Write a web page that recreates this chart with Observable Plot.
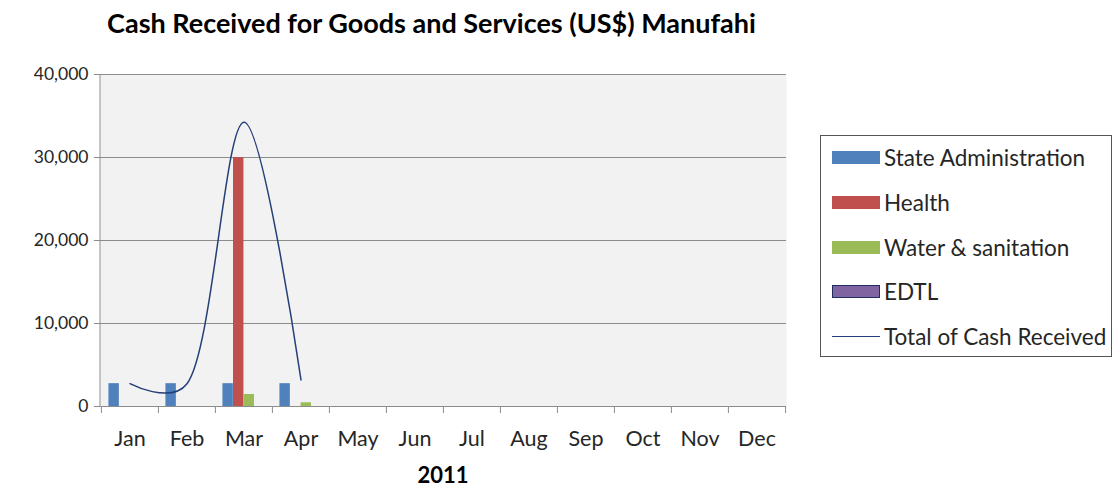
<!DOCTYPE html>
<html><head><meta charset="utf-8">
<script src="https://cdn.jsdelivr.net/npm/d3@7"></script>
<script src="https://cdn.jsdelivr.net/npm/@observablehq/plot@0.6"></script>
<style>
body{margin:0;background:#fff;font-family:Lato,"Open Sans",sans-serif;}
#wrap{position:relative;width:1117px;height:489px;overflow:hidden;}
#title{position:absolute;left:40px;top:6px;width:783px;text-align:center;font-weight:bold;font-size:27px;color:#000;white-space:nowrap;}
#chart{position:absolute;left:0;top:50px;}
#xlabel{position:absolute;left:393px;top:461px;width:100px;text-align:center;font-weight:bold;font-size:22px;color:#000;}
#legend{position:absolute;left:820px;top:135px;width:292px;height:222px;border:1px solid #555;box-sizing:border-box;}
.item{position:absolute;left:11px;height:26px;display:flex;align-items:center;font-size:22.5px;color:#262626;white-space:nowrap;}
.sw{width:48px;height:13px;margin-right:4px;box-sizing:border-box;}
.ln{width:48px;height:0;border-top:1.5px solid;margin-right:4px;}
</style></head>
<body>
<div id="wrap">
  <div id="title">Cash Received for Goods and Services (US$) Manufahi</div>
  <div id="chart"></div>
  <div id="xlabel">2011</div>
  <div id="legend"></div>
</div>
<script>
const months = ["Jan","Feb","Mar","Apr","May","Jun","Jul","Aug","Sep","Oct","Nov","Dec"];
const seriesNames = ["State Administration","Health","Water & sanitation","EDTL"];
const stateAdmin = [2750,2750,2750,2750,0,0,0,0,0,0,0,0];
const health     = [0,0,30000,0,0,0,0,0,0,0,0,0];
const water      = [0,0,1450,450,0,0,0,0,0,0,0,0];
const edtl       = [0,0,0,0,0,0,0,0,0,0,0,0];
const totalMonths = ["Jan","Feb","Mar","Apr"];
const totalCash   = [2750,2750,34250,3200];
const lineName = "Total of Cash Received";
const yTicks = [0,10000,20000,30000,40000];
const colors = ["#4f81bd","#c0504d","#9bbb59","#8064a2"];

const seriesValues = [stateAdmin, health, water, edtl];
const width = 800, height = 439, mL = 100, mR = 14, mT = 24, mB = 83;
const step = (width - mL - mR) / months.length;
const bw = step * 0.185;
const pad = (step - 4 * bw) / 2;

const marks = [
  Plot.frame({fill:"#f2f2f2", stroke:null}),
  Plot.gridY({ticks: yTicks.filter(d => d > 0), stroke:"#8c8c8c", strokeOpacity:1}),
];
seriesValues.forEach((vals, i) => {
  const data = months.map((m, j) => ({month:m, value:vals[j]})).filter(d => d.value > 0);
  marks.push(Plot.barY(data, {x:"month", y:"value", fill:colors[i],
    insetLeft: pad + i*bw, insetRight: step - pad - (i+1)*bw}));
});
marks.push(
  Plot.line(totalMonths.map((m,j)=>({month:m, total:totalCash[j]})), {x:"month", y:"total", curve:"catmull-rom", tension:0.3, stroke:"#253f78", strokeWidth:1.5}),
  Plot.ruleY([0], {stroke:"#8c8c8c"}),
  Plot.axisY({ticks: yTicks, tickFormat: d3.format(","), tickSize:6, tickPadding:6, fontSize:17.5, stroke:"#8c8c8c", fill:"#262626", label:null}),
  Plot.axisX({tickSize:0, tickPadding:24, fontSize:21.5, fill:"#262626", label:null}),
  Plot.axisX({text:null, tickSize:7, dx:-step/2, stroke:"#8c8c8c", label:null}),
  Plot.axisX({ticks:["Dec"], text:null, tickSize:7, dx:step/2, stroke:"#8c8c8c", label:null})
);

const chart = Plot.plot({
  width, height, marginLeft:mL, marginRight:mR, marginTop:mT, marginBottom:mB,
  style:{fontFamily:"Lato, 'Open Sans', sans-serif", background:"transparent", overflow:"visible"},
  x:{type:"band", domain:months, padding:0, label:null},
  y:{domain:[0,40000], label:null},
  marks
});
// left axis line
const svg = d3.select(chart);
svg.append("line").attr("x1", mL).attr("x2", mL).attr("y1", mT).attr("y2", height - mB).attr("stroke", "#8c8c8c");
document.getElementById("chart").appendChild(chart);

const legend = document.getElementById("legend");
const rowTops = [8, 53, 98, 142, 187];
seriesNames.forEach((n, i) => {
  const it = document.createElement("div");
  it.className = "item"; it.style.top = rowTops[i] + "px";
  const sw = document.createElement("div"); sw.className = "sw"; sw.style.background = colors[i];
  if (n === "EDTL") sw.style.border = "1px solid #1f2f5f";
  it.appendChild(sw);
  it.appendChild(document.createTextNode(n));
  legend.appendChild(it);
});
const li = document.createElement("div");
li.className = "item"; li.style.top = rowTops[4] + "px";
const ln = document.createElement("div"); ln.className = "ln"; ln.style.borderColor = "#253f78";
li.appendChild(ln); li.appendChild(document.createTextNode(lineName));
legend.appendChild(li);
</script>
</body></html>
